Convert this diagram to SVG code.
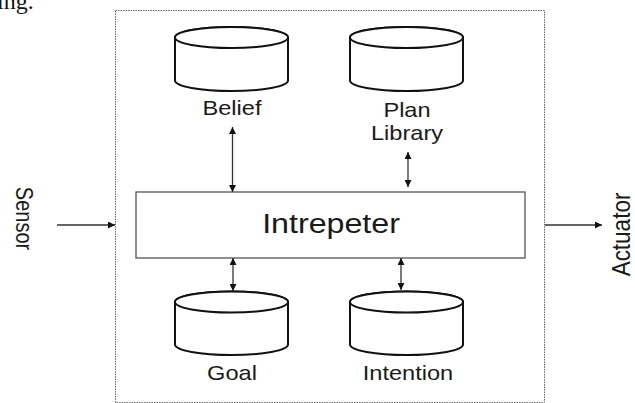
<svg xmlns="http://www.w3.org/2000/svg" width="635" height="403" viewBox="0 0 635 403">
  <style>
    .lbl { font-family: "Liberation Sans", Arial, sans-serif; fill: #1a1a1a; text-anchor: middle; }
    .db { fill: #ffffff; stroke: #111; stroke-width: 2; }
    .conn { stroke: #333; stroke-width: 1.3; fill: none; }
  </style>
  <defs>
    <marker id="ah" viewBox="0 0 10 10" refX="10" refY="5" markerWidth="7" markerHeight="7" markerUnits="userSpaceOnUse" orient="auto-start-reverse">
      <path d="M0,0 L10,5 L0,10 z" fill="#111"/>
    </marker>
  </defs>
  <rect width="635" height="403" fill="#ffffff"/>

  <!-- trailing word from the surrounding page -->
  <text x="-3" y="9" font-family="'Liberation Serif', 'Times New Roman', serif" font-size="24" fill="#111">ing.</text>

  <!-- agent boundary -->
  <rect id="agent" x="115.5" y="10.5" width="429" height="392" fill="none" stroke="#666" stroke-width="1" stroke-dasharray="1.5,1"/>

  <g id="belief">
    <path class="db" d="M175,37.5 L175,80.5 A56.5,10.5 0 0 0 288,80.5 L288,37.5 A56.5,10.5 0 0 0 175,37.5 Z"/>
    <ellipse class="db" cx="231.5" cy="37.5" rx="56.5" ry="10.5"/>
    <text class="lbl" transform="translate(232,115) scale(1.18,1)" font-size="20">Belief</text>
  </g>

  <g id="plan-library">
    <path class="db" d="M350,37.5 L350,80.5 A56.5,10.5 0 0 0 463,80.5 L463,37.5 A56.5,10.5 0 0 0 350,37.5 Z"/>
    <ellipse class="db" cx="406.5" cy="37.5" rx="56.5" ry="10.5"/>
    <text class="lbl" transform="translate(407,117) scale(1.18,1)" font-size="20">Plan</text>
    <text class="lbl" transform="translate(407,140) scale(1.18,1)" font-size="20">Library</text>
  </g>

  <g id="interpreter">
    <rect x="136" y="192" width="389" height="66" fill="#ffffff" stroke="#555" stroke-width="1.3"/>
    <text class="lbl" transform="translate(331,233) scale(1.15,1)" font-size="28">Intrepeter</text>
  </g>

  <g id="goal">
    <path class="db" d="M175,302 L175,344.5 A56.5,10.5 0 0 0 288,344.5 L288,302 A56.5,10.5 0 0 0 175,302 Z"/>
    <ellipse class="db" cx="231.5" cy="302" rx="56.5" ry="10.5"/>
    <text class="lbl" transform="translate(232,380) scale(1.18,1)" font-size="20">Goal</text>
  </g>

  <g id="intention">
    <path class="db" d="M350,302 L350,344.5 A56.5,10.5 0 0 0 463,344.5 L463,302 A56.5,10.5 0 0 0 350,302 Z"/>
    <ellipse class="db" cx="406.5" cy="302" rx="56.5" ry="10.5"/>
    <text class="lbl" transform="translate(408,380) scale(1.18,1)" font-size="20">Intention</text>
  </g>

  <g id="sensor">
    <text class="lbl" transform="translate(16,218.5) scale(1.18,1) rotate(90)" font-size="20">Sensor</text>
  </g>

  <g id="actuator">
    <text class="lbl" transform="translate(630,234.5) scale(1.18,1) rotate(-90)" font-size="22.5">Actuator</text>
  </g>

  <g id="connectors">
    <line class="conn" x1="232.5" y1="127" x2="232.5" y2="192" marker-start="url(#ah)" marker-end="url(#ah)"/>
    <line class="conn" x1="408" y1="152" x2="408" y2="187" marker-start="url(#ah)" marker-end="url(#ah)"/>
    <line class="conn" x1="233" y1="258" x2="233" y2="291" marker-start="url(#ah)" marker-end="url(#ah)"/>
    <line class="conn" x1="401" y1="258" x2="401" y2="290" marker-start="url(#ah)" marker-end="url(#ah)"/>
    <line class="conn" x1="57" y1="225" x2="115" y2="225" marker-end="url(#ah)"/>
    <line class="conn" x1="545" y1="225" x2="602" y2="225" marker-end="url(#ah)"/>
  </g>
</svg>
